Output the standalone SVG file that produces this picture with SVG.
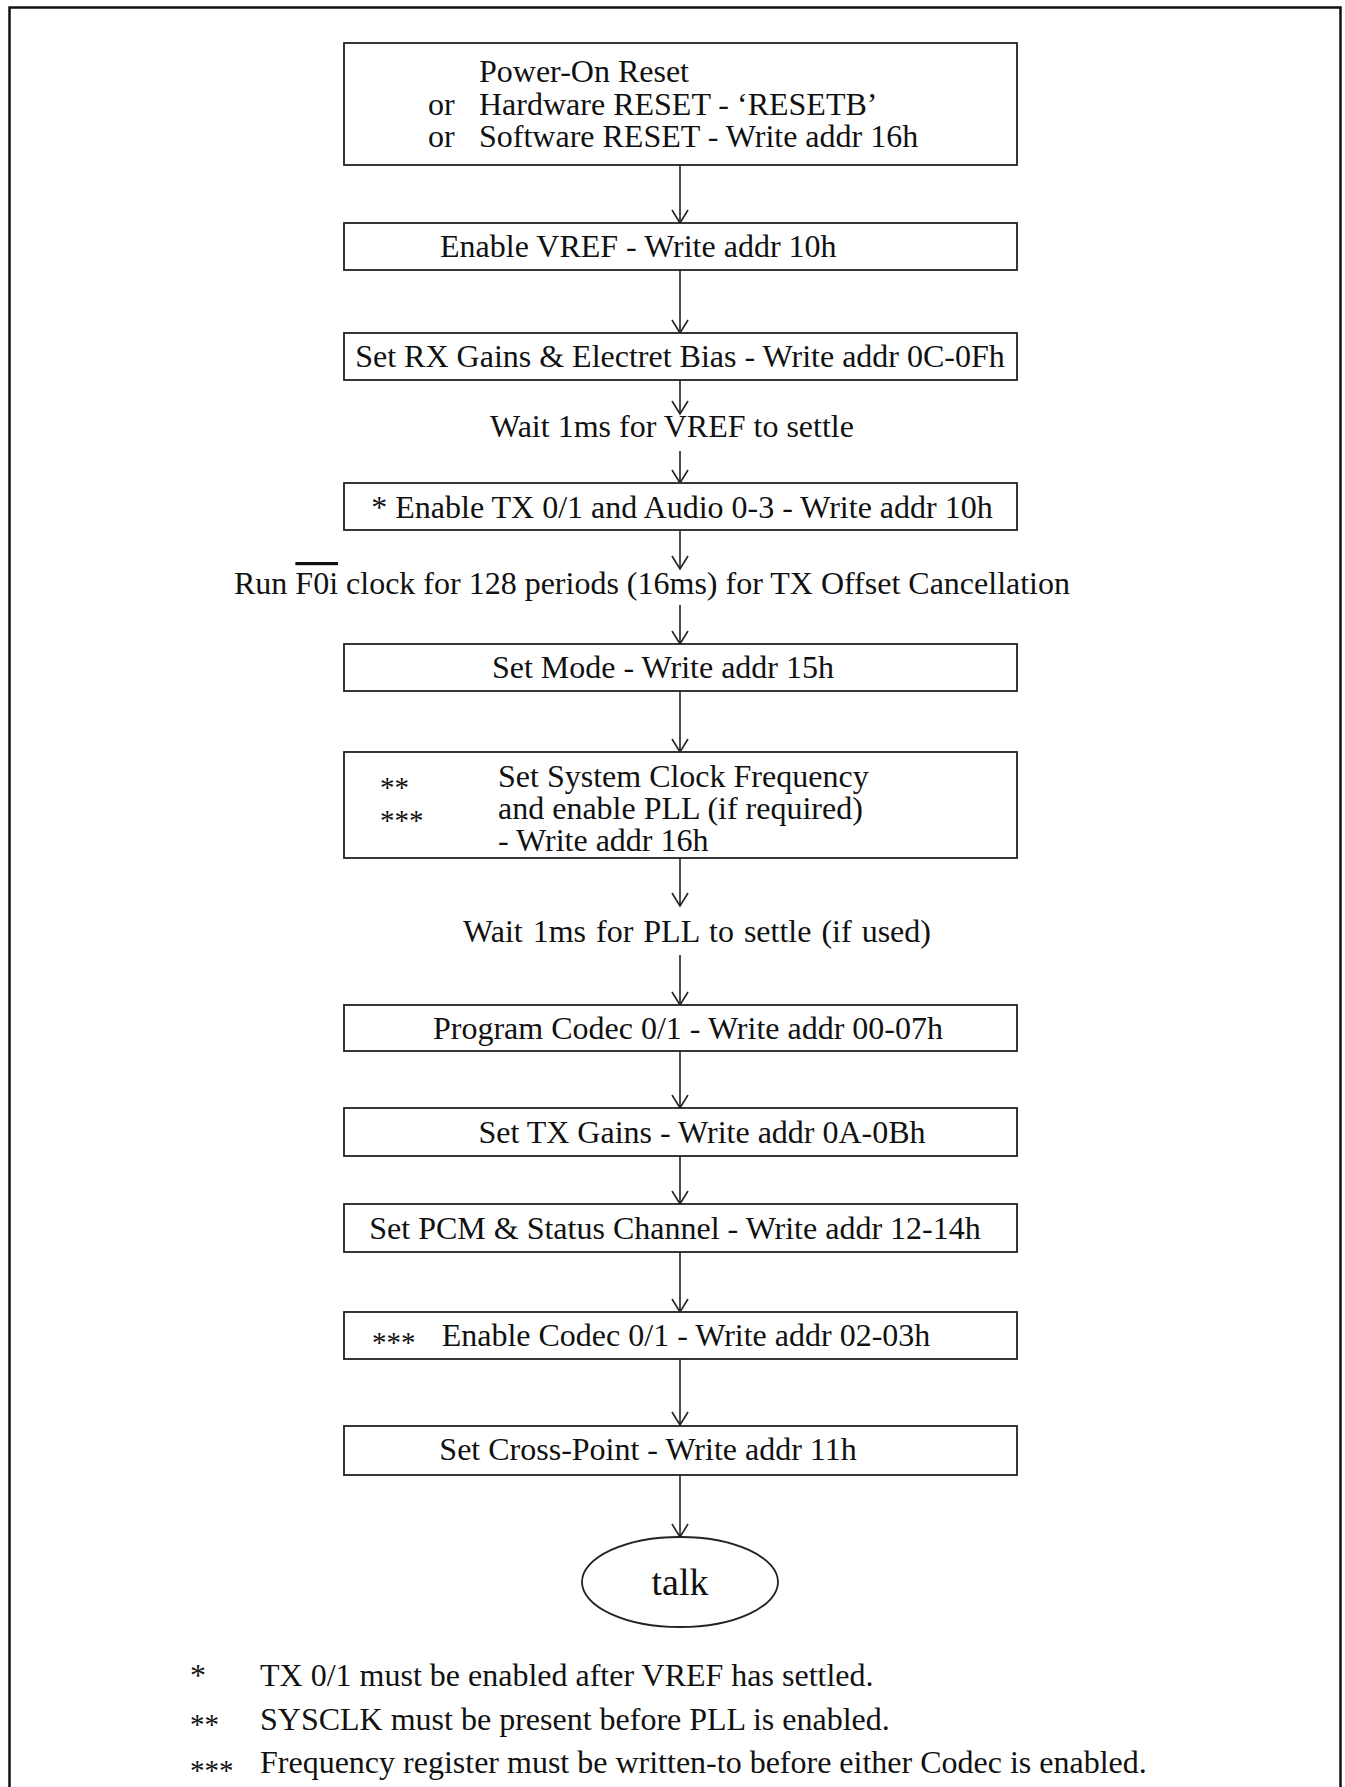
<svg xmlns="http://www.w3.org/2000/svg" width="1345" height="1787" viewBox="0 0 1345 1787">
<defs>
<style>
.bx{fill:#fff;stroke:#222;stroke-width:1.8}
.t{font-family:"Liberation Serif","Times New Roman",serif;font-size:32px;fill:#111}
.s{font-family:"Liberation Serif","Times New Roman",serif;font-size:29px;fill:#111}
.c{stroke:#222;stroke-width:1.6;fill:none}
</style>
<marker id="ah" markerUnits="userSpaceOnUse" markerWidth="18" markerHeight="20" viewBox="-15 -10 17 20" refX="0" refY="0" orient="auto" overflow="visible">
<path d="M-13,-8 L0,0 L-13,8" fill="none" stroke="#222" stroke-width="1.6"/>
</marker>
</defs>
<rect width="1345" height="1787" fill="#fff"/>
<path d="M9.5,1787 V7.5 H1340.5 V1787" fill="none" stroke="#111" stroke-width="2.5"/>

<g id="connectors">
<line class="c" x1="680" y1="165" x2="680" y2="223" marker-end="url(#ah)"/>
<line class="c" x1="680" y1="270" x2="680" y2="333" marker-end="url(#ah)"/>
<line class="c" x1="680" y1="380" x2="680" y2="414" marker-end="url(#ah)"/>
<line class="c" x1="680" y1="451" x2="680" y2="483" marker-end="url(#ah)"/>
<line class="c" x1="680" y1="531" x2="680" y2="569" marker-end="url(#ah)"/>
<line class="c" x1="680" y1="605" x2="680" y2="644" marker-end="url(#ah)"/>
<line class="c" x1="680" y1="691" x2="680" y2="752" marker-end="url(#ah)"/>
<line class="c" x1="680" y1="858" x2="680" y2="906" marker-end="url(#ah)"/>
<line class="c" x1="680" y1="955" x2="680" y2="1005" marker-end="url(#ah)"/>
<line class="c" x1="680" y1="1051" x2="680" y2="1108" marker-end="url(#ah)"/>
<line class="c" x1="680" y1="1156" x2="680" y2="1204" marker-end="url(#ah)"/>
<line class="c" x1="680" y1="1252" x2="680" y2="1312" marker-end="url(#ah)"/>
<line class="c" x1="680" y1="1359" x2="680" y2="1425" marker-end="url(#ah)"/>
<line class="c" x1="680" y1="1474" x2="680" y2="1537" marker-end="url(#ah)"/>
</g>

<g id="n1">
<rect class="bx" x="344" y="43" width="673" height="122"/>
<text class="t" x="479" y="82">Power-On Reset</text>
<text class="t" x="428" y="115">or</text>
<text class="t" x="479" y="115">Hardware RESET - ‘RESETB’</text>
<text class="t" x="428" y="147">or</text>
<text class="t" x="479" y="147">Software RESET - Write addr 16h</text>
</g>
<g id="n2">
<rect class="bx" x="344" y="223" width="673" height="47"/>
<text class="t" x="440" y="257">Enable VREF - Write addr 10h</text>
</g>
<g id="n3">
<rect class="bx" x="344" y="333" width="673" height="47"/>
<text class="t" x="680" y="367" text-anchor="middle">Set RX Gains &amp; Electret Bias - Write addr 0C-0Fh</text>
</g>
<g id="n3b">
<text class="t" x="490" y="437">Wait 1ms for VREF to settle</text>
</g>
<g id="n4">
<rect class="bx" x="344" y="483" width="673" height="47"/>
<text class="t" x="682" y="518" text-anchor="middle">* Enable TX 0/1 and Audio 0-3 - Write addr 10h</text>
</g>
<g id="n4b">
<text class="t" x="234" y="594">Run <tspan text-decoration="overline">F0i</tspan> clock for 128 periods (16ms) for TX Offset Cancellation</text>
</g>
<g id="n5">
<rect class="bx" x="344" y="644" width="673" height="47"/>
<text class="t" x="663" y="678" text-anchor="middle">Set Mode - Write addr 15h</text>
</g>
<g id="n6">
<rect class="bx" x="344" y="752" width="673" height="106"/>
<text class="s" x="380" y="797">**</text>
<text class="s" x="380" y="830">***</text>
<text class="t" x="498" y="787">Set System Clock Frequency</text>
<text class="t" x="498" y="819">and enable PLL (if required)</text>
<text class="t" x="498" y="851">- Write addr 16h</text>
</g>
<g id="n6b">
<text class="t" x="697" y="942" text-anchor="middle" word-spacing="2">Wait 1ms for PLL to settle (if used)</text>
</g>
<g id="n7">
<rect class="bx" x="344" y="1005" width="673" height="46"/>
<text class="t" x="688" y="1039" text-anchor="middle">Program Codec 0/1 - Write addr 00-07h</text>
</g>
<g id="n8">
<rect class="bx" x="344" y="1108" width="673" height="48"/>
<text class="t" x="702" y="1143" text-anchor="middle">Set TX Gains - Write addr 0A-0Bh</text>
</g>
<g id="n9">
<rect class="bx" x="344" y="1204" width="673" height="48"/>
<text class="t" x="675" y="1239" text-anchor="middle">Set PCM &amp; Status Channel - Write addr 12-14h</text>
</g>
<g id="n10">
<rect class="bx" x="344" y="1312" width="673" height="47"/>
<text class="s" x="372" y="1352">***</text>
<text class="t" x="686" y="1346" text-anchor="middle">Enable Codec 0/1 - Write addr 02-03h</text>
</g>
<g id="n11">
<rect class="bx" x="344" y="1426" width="673" height="49"/>
<text class="t" x="648" y="1460" text-anchor="middle">Set Cross-Point - Write addr 11h</text>
</g>
<g id="n12">
<ellipse class="bx" cx="680" cy="1582" rx="98" ry="45"/>
<text class="t" x="680" y="1595" text-anchor="middle" style="font-size:38px">talk</text>
</g>
<g id="notes">
<text class="t" x="190" y="1686">*</text>
<text class="t" x="260" y="1686">TX 0/1 must be enabled after VREF has settled.</text>
<text class="s" x="190" y="1734">**</text>
<text class="t" x="260" y="1730">SYSCLK must be present before PLL is enabled.</text>
<text class="s" x="190" y="1780">***</text>
<text class="t" x="260" y="1773">Frequency register must be written-to before either Codec is enabled.</text>
</g>
</svg>
